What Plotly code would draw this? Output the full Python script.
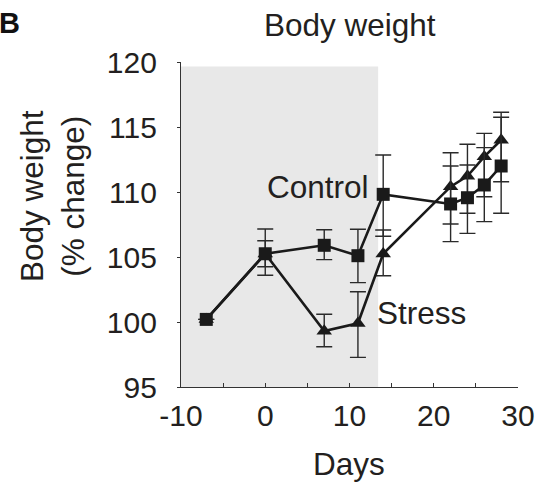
import plotly.graph_objects as go

# ---- data ----
days = [-7, 0, 7, 11, 14, 22, 24, 26, 28]
control = [100.2, 105.25, 105.9, 105.1, 109.82, 109.08, 109.56, 110.54, 112.0]
control_err_plus = [0, 1.0, 1.2, 2.03, 3.03, 2.92, 2.52, 2.87, 3.75]
control_err_minus = [0, 1.0, 1.1, 2.07, 3.22, 2.9, 2.74, 2.82, 3.64]
stress = [100.2, 105.25, 99.3, 99.9, 105.25, 110.41, 111.23, 112.72, 114.0]
stress_err_plus = [0, 1.9, 1.3, 2.43, 1.83, 2.61, 2.44, 1.79, 2.13]
stress_err_minus = [0, 1.65, 1.2, 2.62, 1.69, 2.87, 2.87, 3.08, 3.21]
stress_period = [-10, 13.4]
x_ticks = [-10, 0, 10, 20, 30]
y_ticks = [95, 100, 105, 110, 115, 120]

TXT = "#231f20"
FONT = "Liberation Sans, Arial, sans-serif"

W, H = 547, 487
L, R, T, B = 181, 21, 62, 100
pw, ph = W - L - R, H - T - B


def px(xp):
    return (xp - L) / pw


def py(yp):
    return (H - B - yp) / ph


fig = go.Figure()

fig.add_shape(type="rect", xref="x", yref="y", x0=stress_period[0], x1=stress_period[1],
              y0=95, y1=119.65, fillcolor="#e8e8e8", line=dict(width=0), layer="below")

fig.add_trace(go.Scatter(
    x=days, y=stress, mode="lines+markers", name="Stress",
    line=dict(color="#1a1a1a", width=2.6),
    marker=dict(symbol="triangle-up", size=13.5, color="#1a1a1a"),
    error_y=dict(type="data", symmetric=False, array=stress_err_plus,
                 arrayminus=stress_err_minus, color="#2a2a2a", thickness=1.4, width=8),
))
fig.add_trace(go.Scatter(
    x=days, y=control, mode="lines+markers", name="Control",
    line=dict(color="#1a1a1a", width=2.6),
    marker=dict(symbol="square", size=13, color="#1a1a1a"),
    error_y=dict(type="data", symmetric=False, array=control_err_plus,
                 arrayminus=control_err_minus, color="#2a2a2a", thickness=1.4, width=8),
))

fig.update_xaxes(range=[-10, 30], tickvals=x_ticks, ticktext=[str(v) for v in x_ticks],
                 showline=True, linecolor="#333", linewidth=1.3, ticks="inside", ticklen=4,
                 tickcolor="#333", minor=dict(dtick=5, ticks="inside", ticklen=4, tickcolor="#333"),
                 showgrid=False, zeroline=False, tickfont=dict(size=30, color=TXT, family=FONT),
                 ticklabelstandoff=2)
fig.update_yaxes(range=[95, 120], tickvals=y_ticks, ticktext=[str(v) for v in y_ticks],
                 showline=True, linecolor="#333", linewidth=1.3, ticks="outside", ticklen=3,
                 tickcolor="#333", showgrid=False, zeroline=False,
                 tickfont=dict(size=30, color=TXT, family=FONT), ticklabelstandoff=14)

AF = dict(size=31.5, color=TXT, family=FONT)
anns = [
    dict(text="Control", x=px(321), y=py(187), xref="paper", yref="paper", showarrow=False,
         font=AF, xanchor="center", yanchor="middle"),
    dict(text="Stress", x=px(427), y=py(313), xref="paper", yref="paper", showarrow=False,
         font=AF, xanchor="center", yanchor="middle"),
    dict(text="Body weight", x=px(354), y=py(25), xref="paper", yref="paper", showarrow=False,
         font=AF, xanchor="center", yanchor="middle"),
    dict(text="Days", x=px(353), y=py(464), xref="paper", yref="paper", showarrow=False,
         font=AF, xanchor="center", yanchor="middle"),
    dict(text="Body weight<br>(% change)", x=px(49), y=py(196), xref="paper", yref="paper",
         showarrow=False, textangle=-90, font=AF, xanchor="center", yanchor="middle"),
    dict(text="<b>B</b>", x=px(-7), y=py(23), xref="paper", yref="paper", showarrow=False,
         font=dict(size=29, color="#111", family=FONT), xanchor="left", yanchor="middle"),
]

fig.update_layout(width=W, height=H, margin=dict(l=L, r=R, t=T, b=B, pad=0),
                  paper_bgcolor="white", plot_bgcolor="white", showlegend=False,
                  annotations=anns, font=dict(family=FONT, color=TXT))

fig.write_html("out.html", config={"displayModeBar": False},
               post_script="document.body.style.margin='0';document.body.style.padding='0';")
